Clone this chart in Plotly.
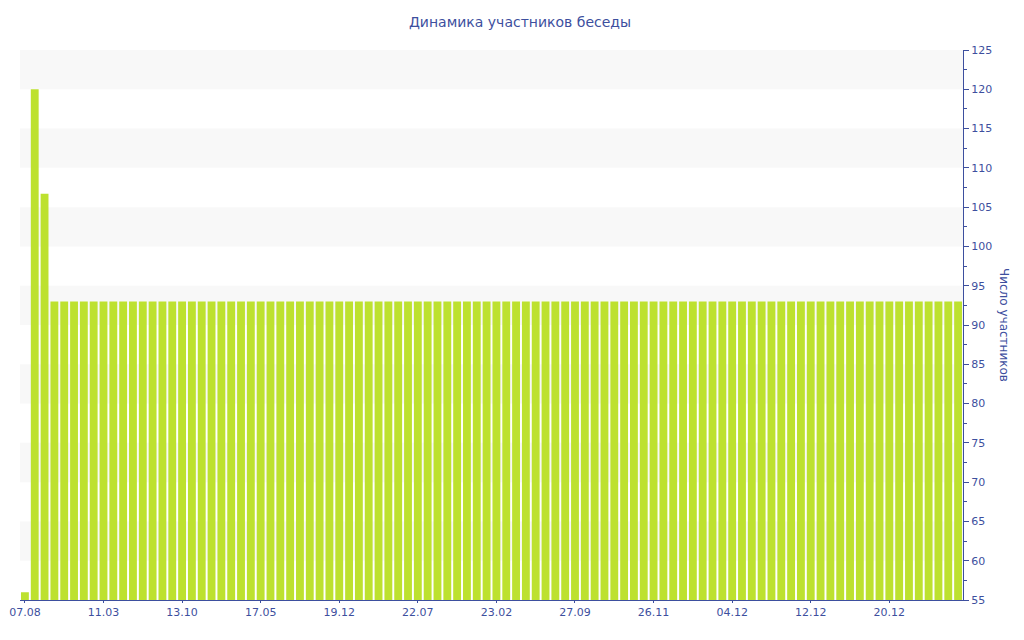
import plotly.graph_objects as go

title = "Динамика участников беседы"
y_title = "Число участников"

# 96 periodic bars; first three differ, the rest are flat at 93
values = [56, 120, 106.7] + [93] * 93
tick_labels = ["07.08", "11.03", "13.10", "17.05", "19.12", "22.07",
               "23.02", "27.09", "26.11", "04.12", "12.12", "20.12"]
tick_step = 8

x = list(range(len(values)))
tick_vals = [i * tick_step for i in range(len(tick_labels))]

axis_color = "#3d4f9e"
text_color = "#3d4f9e"
bar_color = "#bde12f"
band_color = "#f8f8f8"
font_family = "DejaVu Sans"

y_min, y_max, y_step = 55, 125, 5

fig = go.Figure(go.Bar(x=x, y=values, marker=dict(color=bar_color, line=dict(width=0)),
                       hoverinfo="y"))

# alternating horizontal bands (every other interval of the y grid)
shapes = []
lvl = y_max
while lvl - y_step >= y_min:
    shapes.append(dict(type="rect", xref="paper", yref="y", x0=0, x1=1,
                       y0=lvl - y_step, y1=lvl, fillcolor=band_color,
                       line=dict(width=0), layer="below"))
    lvl -= 2 * y_step

fig.update_layout(
    width=1024, height=640,
    margin=dict(l=12, r=69, t=42, b=48, autoexpand=False),
    paper_bgcolor="white", plot_bgcolor="white",
    bargap=0.2,
    showlegend=False,
    shapes=shapes,
    title=dict(text=title, x=0.5, xanchor="center", y=0.978, yanchor="middle",
               font=dict(family=font_family, size=14, color=text_color)),
    xaxis=dict(range=[-0.5, len(values) - 0.5], tickmode="array",
               tickvals=tick_vals, ticktext=tick_labels,
               showgrid=False, zeroline=False, showline=True,
               linecolor=axis_color, linewidth=1,
               ticks="outside", ticklen=2, tickcolor=axis_color,
               tickfont=dict(family=font_family, size=11, color=text_color)),
    yaxis=dict(side="right", range=[y_min, y_max], dtick=y_step, tick0=y_min,
               showgrid=False, zeroline=False, showline=True,
               linecolor=axis_color, linewidth=1,
               ticks="outside", ticklen=5, tickcolor=axis_color,
               tickfont=dict(family=font_family, size=11, color=text_color),
               minor=dict(ticks="outside", ticklen=3, dtick=y_step / 2,
                          tickcolor=axis_color, showgrid=False)),
    annotations=[dict(text=y_title, xref="paper", yref="paper", x=1, xshift=41,
                      xanchor="center", y=0.5, textangle=90, showarrow=False,
                      font=dict(family=font_family, size=12, color=text_color))],
)

fig.write_html("out.html")
